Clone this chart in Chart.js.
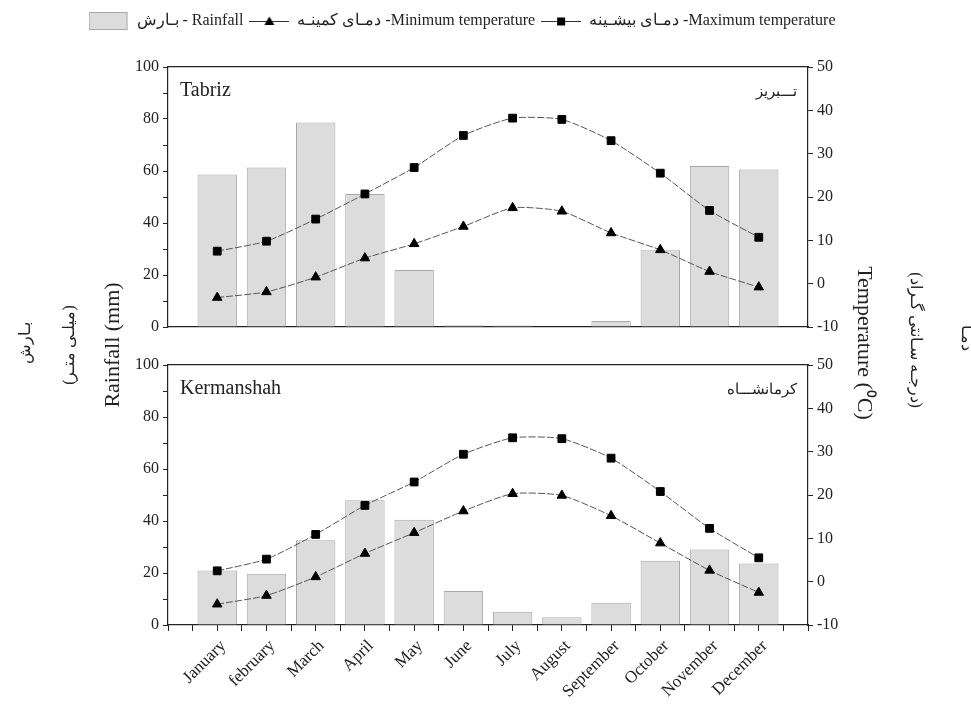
<!DOCTYPE html>
<html>
<head>
<meta charset="utf-8">
<script src="https://cdn.jsdelivr.net/npm/chart.js@4.4.0/dist/chart.umd.min.js"></script>
<style>
    body { margin: 0; background: #fff; }
    #wrap { position: relative; width: 971px; height: 706px; }
    #wrap canvas { position: absolute; left: 0; top: 0; }
</style>
</head>
<body>
<div id="wrap">
    <canvas id="topChart" width="971" height="706"></canvas>
    <canvas id="bottomChart" width="971" height="706"></canvas>
</div>
<script>
// Данные
const MONTHS = ['January', 'february', 'March', 'April', 'May', 'June',
                'July', 'August', 'September', 'October', 'November', 'December'];

const tabrizRain = [58.7, 61.3, 78.7, 51.2, 21.9, 0.7, 0.6, 0, 2.3, 29.5, 61.9, 60.6];
const tabrizTmin = [-3.2, -1.9, 1.5, 5.9, 9.2, 13.2, 17.5, 16.7, 11.7, 7.8, 2.8, -0.8];
const tabrizTmax = [7.5, 9.8, 14.9, 20.7, 26.8, 34.2, 38.2, 37.9, 33.0, 25.5, 16.9, 10.7];

const kermRain = [21.0, 19.7, 32.6, 48.0, 40.5, 13.1, 5.1, 3.0, 8.6, 24.7, 29.0, 23.7];
const kermTmin = [-5.2, -3.2, 1.1, 6.5, 11.3, 16.3, 20.3, 19.9, 15.2, 8.9, 2.6, -2.5];
const kermTmax = [2.5, 5.2, 10.9, 17.6, 23.0, 29.4, 33.2, 33.0, 28.5, 20.8, 12.3, 5.5];

const RAIN_MIN = 0, RAIN_MAX = 100, RAIN_STEP = 10, RAIN_LABEL_STEP = 20;
const TEMP_MIN = -10, TEMP_MAX = 50, TEMP_STEP = 5, TEMP_LABEL_STEP = 10;

const SERIF = '"Liberation Serif", "Times New Roman", serif';
const AXIS = '#222';
const BAR_FILL = '#dcdcdc';
const BAR_EDGE = '#a8a8a8';
const LINE = '#555';

Chart.defaults.font.family = SERIF;
Chart.defaults.color = '#222';

function toXY(values) {
    return values.map((v, i) => ({ x: i + 1, y: v }));
}

// иконки для легенды
function makeIcon(kind) {
    const c = document.createElement('canvas');
    c.width = 40;
    c.height = 18;
    const g = c.getContext('2d');
    if (kind === 'bar') {
        g.fillStyle = BAR_FILL;
        g.fillRect(0.5, 0.5, 38, 17);
        g.strokeStyle = BAR_EDGE;
        g.strokeRect(0.5, 0.5, 38, 17);
    } else {
        g.strokeStyle = '#333';
        g.lineWidth = 1;
        g.beginPath();
        g.moveTo(0, 9.5);
        g.lineTo(40, 9.5);
        g.stroke();
        g.fillStyle = '#000';
        if (kind === 'triangle') {
            g.beginPath();
            g.moveTo(20, 4.5);
            g.lineTo(25, 13);
            g.lineTo(15, 13);
            g.closePath();
            g.fill();
        } else {
            g.fillRect(16, 5.5, 8, 8);
        }
    }
    return c;
}

const panelText = {
    id: 'panelText',
    afterDraw(chart, args, opts) {
        const { ctx, chartArea: a } = chart;
        ctx.save();
        ctx.fillStyle = '#222';
        ctx.textBaseline = 'alphabetic';
        ctx.font = '20px ' + SERIF;
        ctx.textAlign = 'left';
        ctx.fillText(opts.en, a.left + 12, a.top + 29);
        ctx.font = '15px ' + SERIF;
        ctx.textAlign = 'right';
        ctx.fillText(opts.fa, a.right - 11, a.top + 29);
        ctx.restore();
    }
};

function vText(ctx, text, x, y, rot, font) {
    ctx.save();
    ctx.translate(x, y);
    ctx.rotate(rot);
    ctx.font = font;
    ctx.textAlign = 'center';
    ctx.textBaseline = 'middle';
    ctx.fillText(text, 0, 0);
    ctx.restore();
}

const sideTitles = {
    id: 'sideTitles',
    afterDraw(chart) {
        const ctx = chart.ctx;
        ctx.save();
        ctx.fillStyle = '#222';
        vText(ctx, 'Rainfall (mm)', 113, 345, -Math.PI / 2, '22px ' + SERIF);
        vText(ctx, '(میلـی متـر)', 70, 345, -Math.PI / 2, '16px ' + SERIF);
        vText(ctx, 'بـارش', 26, 343, -Math.PI / 2, '16px ' + SERIF);
        vText(ctx, 'Temperature (⁰C)', 864, 343, Math.PI / 2, '22px ' + SERIF);
        vText(ctx, '(درجـه سـانتی گـراد)', 915, 340, Math.PI / 2, '16px ' + SERIF);
        vText(ctx, 'دمـا', 966, 338, Math.PI / 2, '16px ' + SERIF);
        ctx.restore();
    }
};

function buildScales(isBottom) {
    return {
        x: {
            type: 'linear',
            min: 0,
            max: 13,
            offset: false,
            grid: { drawOnChartArea: false, drawTicks: isBottom, tickLength: 6, tickColor: AXIS, offset: false },
            border: { color: AXIS, width: 1.2 },
            ticks: {
                display: isBottom,
                stepSize: 0.5,
                autoSkip: false,
                minRotation: 45,
                maxRotation: 45,
                padding: 5,
                labelOffset: 6,
                font: { size: 17 },
                callback: v => (Number.isInteger(v) && v >= 1 && v <= 12) ? MONTHS[v - 1] : ''
            },
            afterFit: s => { s.height = isBottom ? 81 : 0; }
        },
        xTop: {
            type: 'linear',
            position: 'top',
            min: 0,
            max: 1,
            grid: { drawOnChartArea: false, drawTicks: false },
            ticks: { display: false },
            border: { color: AXIS, width: 1.2 },
            afterFit: s => { s.height = isBottom ? 30 : 28; }
        },
        y: {
            position: 'left',
            min: RAIN_MIN,
            max: RAIN_MAX,
            ticks: {
                stepSize: RAIN_STEP,
                padding: 4,
                font: { size: 16 },
                callback: v => v % RAIN_LABEL_STEP === 0 ? v : ''
            },
            grid: { drawOnChartArea: false, tickLength: 5, tickColor: AXIS },
            border: { color: AXIS, width: 1.2 },
            afterFit: s => { s.width = 168; }
        },
        y2: {
            position: 'right',
            min: TEMP_MIN,
            max: TEMP_MAX,
            ticks: {
                stepSize: TEMP_STEP,
                padding: 4,
                font: { size: 16 },
                callback: v => v % TEMP_LABEL_STEP === 0 ? v : ''
            },
            grid: { drawOnChartArea: false, tickLength: 5, tickColor: AXIS },
            border: { color: AXIS, width: 1.2 },
            afterFit: s => { s.width = 116; }
        }
    };
}

function buildDatasets(rain, tmin, tmax) {
    return [
        {
            type: 'bar',
            label: 'بـارش - Rainfall',
            data: toXY(rain),
            yAxisID: 'y',
            backgroundColor: BAR_FILL,
            borderColor: BAR_EDGE,
            borderWidth: { top: 1, left: 1, right: 1, bottom: 0 },
            borderSkipped: false,
            // шаг тиков 0.5, поэтому 1.6 = 0.8 от месяца
            barPercentage: 1.6,
            categoryPercentage: 1,
            order: 3
        },
        {
            type: 'line',
            label: 'دمـای کمینـه -Minimum temperature',
            data: toXY(tmin),
            yAxisID: 'y2',
            borderColor: LINE,
            borderWidth: 1,
            borderDash: [7, 2],
            tension: 0.2,
            pointStyle: 'triangle',
            pointRadius: 5.5,
            pointBackgroundColor: '#000',
            pointBorderColor: '#000',
            order: 1
        },
        {
            type: 'line',
            label: 'دمـای بیشـینه -Maximum temperature',
            data: toXY(tmax),
            yAxisID: 'y2',
            borderColor: LINE,
            borderWidth: 1,
            borderDash: [7, 2],
            tension: 0.2,
            pointStyle: 'rect',
            pointRadius: 5.5,
            pointBackgroundColor: '#000',
            pointBorderColor: '#000',
            order: 1
        }
    ];
}

const icons = [makeIcon('bar'), makeIcon('triangle'), makeIcon('square')];

function makeChart(canvasId, rain, tmin, tmax, isBottom, en, fa) {
    const ctx = document.getElementById(canvasId).getContext('2d');
    const plugins = [panelText];
    if (!isBottom) plugins.push(sideTitles);

    return new Chart(ctx, {
        type: 'bar',
        data: { datasets: buildDatasets(rain, tmin, tmax) },
        options: {
            responsive: false,
            animation: false,
            layout: {
                padding: isBottom
                    ? { top: 335, left: 0, right: 47, bottom: 0 }
                    : { top: 7, left: 0, right: 47, bottom: 379 }
            },
            scales: buildScales(isBottom),
            plugins: {
                tooltip: { enabled: false },
                panelText: { en: en, fa: fa },
                legend: {
                    display: !isBottom,
                    position: 'top',
                    labels: {
                        usePointStyle: true,
                        pointStyleWidth: 40,
                        padding: 6,
                        color: '#222',
                        font: { size: 16 },
                        generateLabels: chart => chart.data.datasets.map((ds, i) => ({
                            text: ds.label,
                            pointStyle: icons[i],
                            datasetIndex: i,
                            hidden: false,
                            lineWidth: 0,
                            fillStyle: 'transparent',
                            strokeStyle: 'transparent',
                            fontColor: '#222'
                        }))
                    }
                }
            }
        },
        plugins: plugins
    });
}

makeChart('topChart', tabrizRain, tabrizTmin, tabrizTmax, false, 'Tabriz', 'تـــبریز');
makeChart('bottomChart', kermRain, kermTmin, kermTmax, true, 'Kermanshah', 'کرمانشـــاه');
</script>
</body>
</html>
